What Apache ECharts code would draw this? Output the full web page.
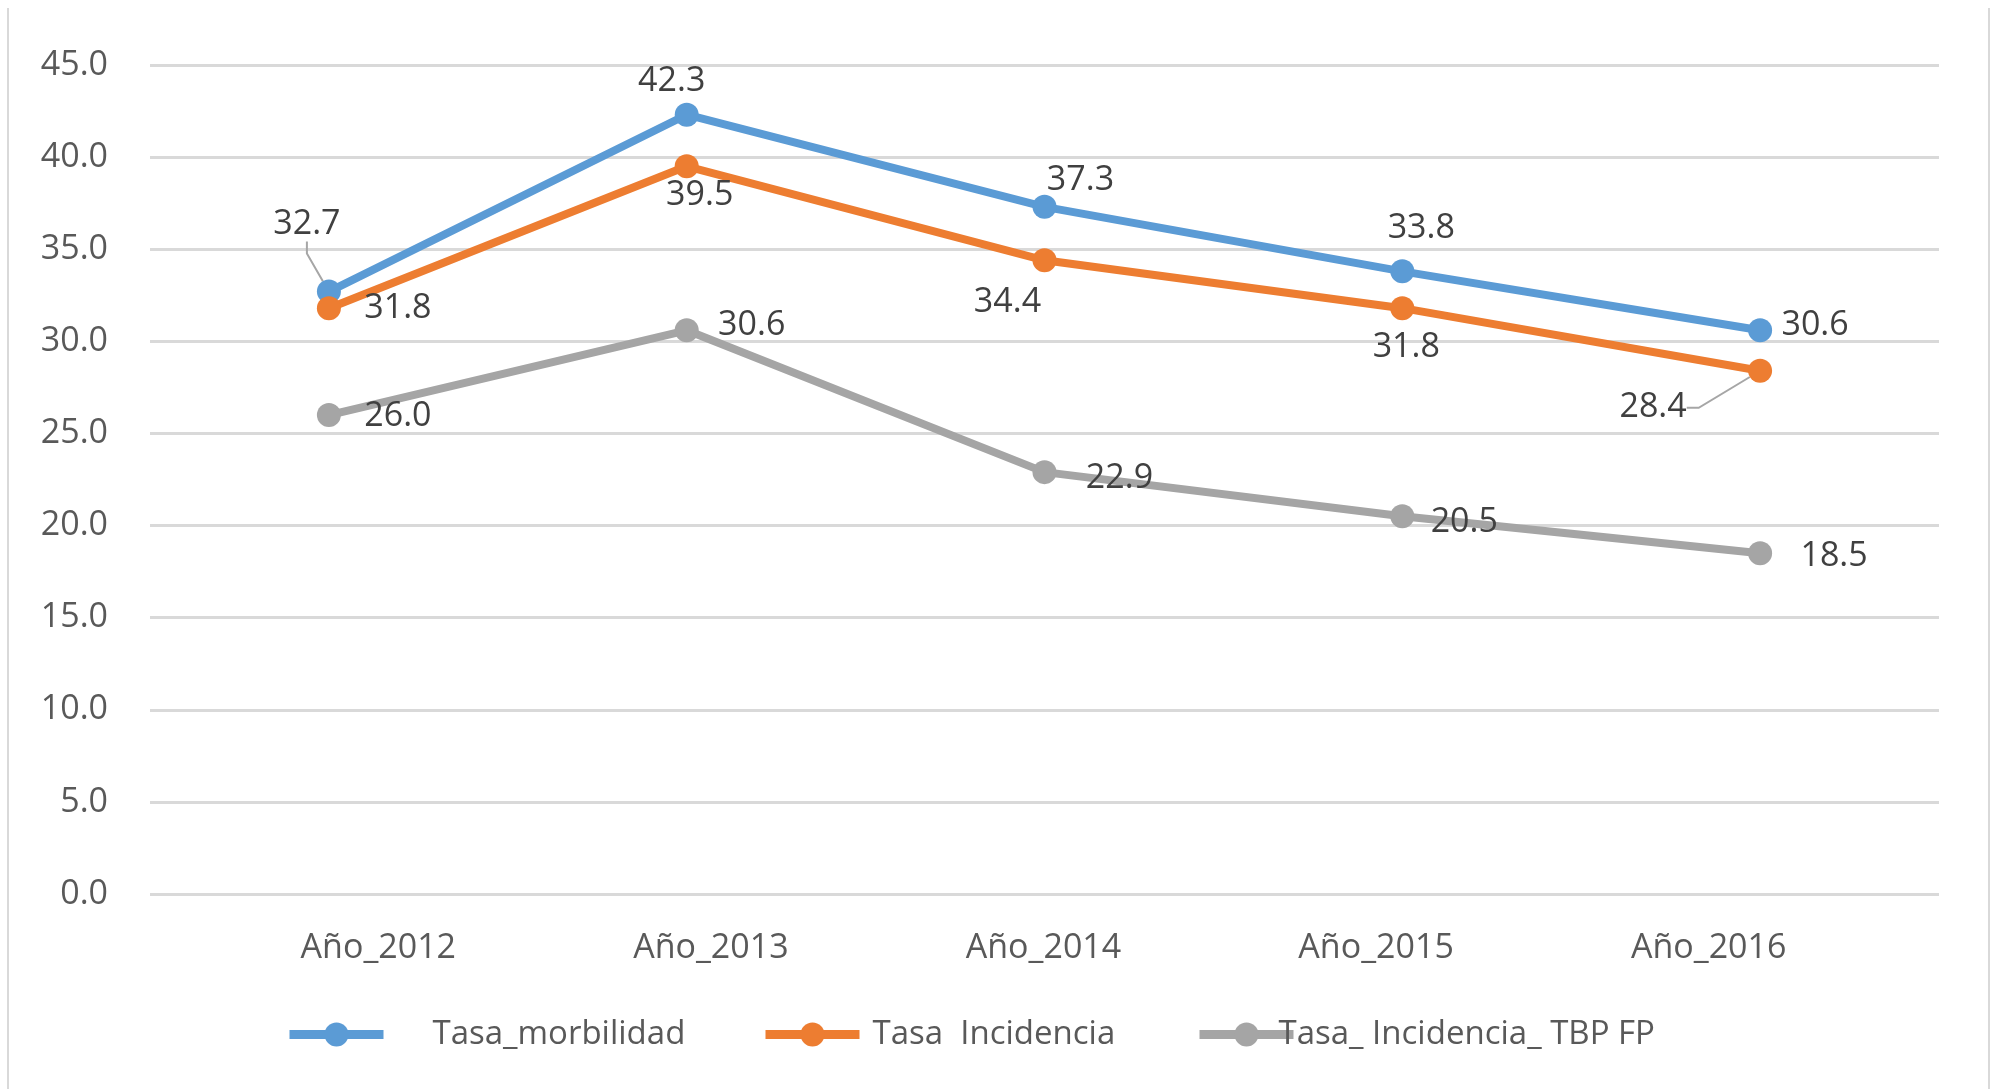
<!DOCTYPE html>
<html><head><meta charset="utf-8">
<script src="https://cdn.jsdelivr.net/npm/echarts@6/dist/echarts.min.js"></script>
<style>html,body{margin:0;padding:0;background:#fff}#c{width:1995px;height:1089px}</style>
</head><body><div id="c"></div>
<script>
const categories = ['Año_2012', 'Año_2013', 'Año_2014', 'Año_2015', 'Año_2016'];
const seriesNames = ['Tasa_morbilidad', 'Tasa  Incidencia', 'Tasa_ Incidencia_ TBP FP'];
const morbilidad = [32.7, 42.3, 37.3, 33.8, 30.6];
const incidencia = [31.8, 39.5, 34.4, 31.8, 28.4];
const incidenciaTBP = [26.0, 30.6, 22.9, 20.5, 18.5];
const yMin = 0, yMax = 45, yStep = 5;
// label displacement (px) from each point
const morbOffsets = [[-22, -67], [-15, -33], [36, -27], [19, -43], [55, -5]];
const incOffsets = [[69, 0], [13, 29], [-37, 42], [4, 39], [-107, 37]];
const tbpOffsets = [[69, 1], [65, -5], [75, 6], [62, 6], [74, 3]];
const morbLeader = [0];
const incLeader = [4];

const FONT = 'Open Sans';
const colors = ['#5B9BD5', '#ED7D31', '#A5A5A5'];
const allValues = [morbilidad, incidencia, incidenciaTBP];
const allOffsets = [morbOffsets, incOffsets, tbpOffsets];
const allLeaders = [morbLeader, incLeader, []];

const chart = echarts.init(document.getElementById('c'));

function mkSeries(i) {
  return {
    name: seriesNames[i], type: 'line', xAxisIndex: 0, yAxisIndex: 0,
    data: allValues[i].map((v, k) => allLeaders[i].includes(k)
      ? { value: v, labelLine: { show: true } } : v),
    symbol: 'circle', symbolSize: 24,
    lineStyle: { color: colors[i], width: 8 },
    itemStyle: { color: colors[i] },
    label: { show: true, position: 'inside', color: '#404040', fontSize: 34, fontFamily: FONT,
      formatter: p => Number(p.value).toFixed(1) },
    labelLine: { show: false, lineStyle: { color: '#A6A6A6', width: 2 }, length2: 12 },
    labelLayout: p => ({ dx: allOffsets[i][p.dataIndex][0], dy: allOffsets[i][p.dataIndex][1] }),
    emphasis: { disabled: true }, animation: false
  };
}

const legendLefts = [280, 756, 1190];
const legendPads = [44, 8, -20];

chart.setOption({
  animation: false,
  backgroundColor: '#fff',
  grid: [
    { left: 150, right: 56, top: 65, bottom: 195 },
    { left: 212, right: 120, top: 65, bottom: 195 }
  ],
  xAxis: [
    { type: 'category', gridIndex: 0, data: categories, boundaryGap: true,
      axisLine: { show: false }, axisTick: { show: false }, axisLabel: { show: false } },
    { type: 'category', gridIndex: 1, data: categories, boundaryGap: true,
      axisLine: { show: false }, axisTick: { show: false },
      axisLabel: { color: '#595959', fontSize: 34, fontFamily: FONT, margin: 37 } }
  ],
  yAxis: [
    { type: 'value', gridIndex: 0, min: yMin, max: yMax, interval: yStep,
      axisLine: { show: false }, axisTick: { show: false },
      axisLabel: { color: '#595959', fontSize: 34, fontFamily: FONT, margin: 42,
        formatter: v => v.toFixed(1) },
      splitLine: { lineStyle: { color: '#D9D9D9', width: 3 } } },
    { type: 'value', gridIndex: 1, min: yMin, max: yMax, show: false, splitLine: { show: false } }
  ],
  legend: [0, 1, 2].map(i => ({
    data: [seriesNames[i]], left: legendLefts[i], top: 1013,
    itemWidth: 94, itemHeight: 30, selectedMode: false,
    lineStyle: { width: 9 },
    textStyle: { color: '#595959', fontSize: 33, fontFamily: FONT, padding: [0, 0, 0, legendPads[i]] }
  })),
  graphic: [
    { type: 'line', shape: { x1: 8, y1: 8, x2: 8, y2: 1089 }, style: { stroke: '#D9D9D9', lineWidth: 2 }, silent: true },
    { type: 'line', shape: { x1: 1989, y1: 8, x2: 1989, y2: 1089 }, style: { stroke: '#D9D9D9', lineWidth: 2 }, silent: true }
  ],
  series: [0, 1, 2].map(mkSeries)
});
</script></body></html>
